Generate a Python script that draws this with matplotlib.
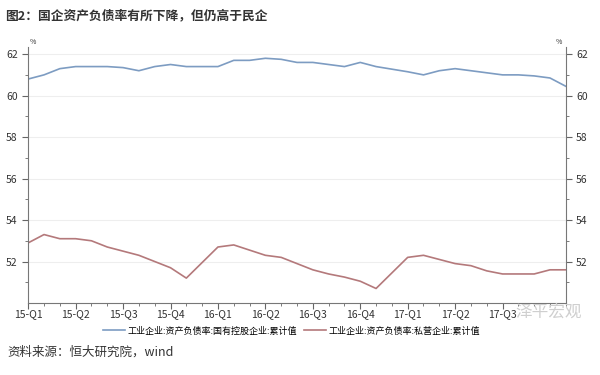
import matplotlib
matplotlib.use('Agg')
import matplotlib.pyplot as plt
import numpy as np

plt.rcParams['font.family'] = ['Noto Sans CJK SC', 'DejaVu Sans']

# 数据（月度，1月无单独数据，用 nan 表示）
quarter_labels = ['15-Q1', '15-Q2', '15-Q3', '15-Q4', '16-Q1', '16-Q2',
                  '16-Q3', '16-Q4', '17-Q1', '17-Q2', '17-Q3']
soe = [60.8, 61.0, 61.3, 61.4, 61.4, 61.4, 61.35, 61.2, 61.4, 61.5, 61.4, np.nan,
       61.4, 61.7, 61.7, 61.8, 61.75, 61.6, 61.6, 61.5, 61.4, 61.6, 61.4, np.nan,
       61.15, 61.0, 61.2, 61.3, 61.2, 61.1, 61.0, 61.0, 60.95, 60.85, 60.45]
private = [52.9, 53.3, 53.1, 53.1, 53.0, 52.7, 52.5, 52.3, 52.0, 51.7, 51.2, np.nan,
           52.7, 52.8, 52.55, 52.3, 52.2, 51.9, 51.6, 51.4, 51.25, 51.05, 50.7, np.nan,
           52.2, 52.3, 52.1, 51.9, 51.8, 51.55, 51.4, 51.4, 51.4, 51.6, 51.6]
soe_name = '工业企业:资产负债率:国有控股企业:累计值'
private_name = '工业企业:资产负债率:私营企业:累计值'

x = np.arange(len(soe))
soe = np.array(soe)
private = np.array(private)

fig = plt.figure(figsize=(6, 3.75), dpi=100)
ax = fig.add_axes([0.047, 0.192, 0.896, 0.683])

m1 = ~np.isnan(soe)
m2 = ~np.isnan(private)
ax.plot(x[m1], soe[m1], color='#7d9cc2', lw=1.2, label=soe_name)
ax.plot(x[m2], private[m2], color='#b4797b', lw=1.2, label=private_name)

ax.set_xlim(0, len(soe) - 1)
ax.set_ylim(50, 62.35)
ax.set_yticks(np.arange(52, 63, 2))
ax.set_yticks(np.arange(51, 63, 1), minor=True)
ax.set_xticks(x[::3][:len(quarter_labels)])
ax.set_xticklabels(quarter_labels, fontsize=7.5, color='#333333')
ax.set_xticks(x, minor=True)
ax.yaxis.grid(True, color='#eeeeee', lw=0.8)
ax.set_axisbelow(True)

ax.tick_params(axis='y', which='both', labelleft=True, labelright=True,
               left=True, right=True, direction='out', colors='#666666',
               labelcolor='#333333', labelsize=7.5)
ax.tick_params(axis='y', which='major', length=4)
ax.tick_params(axis='y', which='minor', length=2)
ax.tick_params(axis='x', which='major', length=4, colors='#666666', labelcolor='#333333', pad=0.5)
ax.tick_params(axis='x', which='minor', length=2, colors='#666666')

ax.spines['top'].set_visible(False)
for s in ['left', 'right', 'bottom']:
    ax.spines[s].set_color('#777777')
    ax.spines[s].set_linewidth(0.8)

ax.text(0.003, 1.005, '%', transform=ax.transAxes, fontsize=5, ha='left', va='bottom', color='#333333')
ax.text(0.993, 1.005, '%', transform=ax.transAxes, fontsize=5, ha='right', va='bottom', color='#333333')

ax.legend(loc='upper center', bbox_to_anchor=(0.49, -0.06), ncol=2, frameon=False,
          fontsize=6.5, handlelength=2.4, columnspacing=0.8, handletextpad=0.3)

fig.text(0.008, 0.957, '图2：国企资产负债率有所下降，但仍高于民企', fontsize=9.2,
         fontweight='bold', color='#333333', ha='left', va='center')
fig.text(0.013, 0.06, '资料来源：恒大研究院，wind', fontsize=9, color='#333333',
         ha='left', va='center')
fig.text(0.915, 0.168, '泽平宏观', fontsize=12, color='#cfcfcf', ha='center', va='center')

fig.savefig('out.png', dpi=100, facecolor='white')
